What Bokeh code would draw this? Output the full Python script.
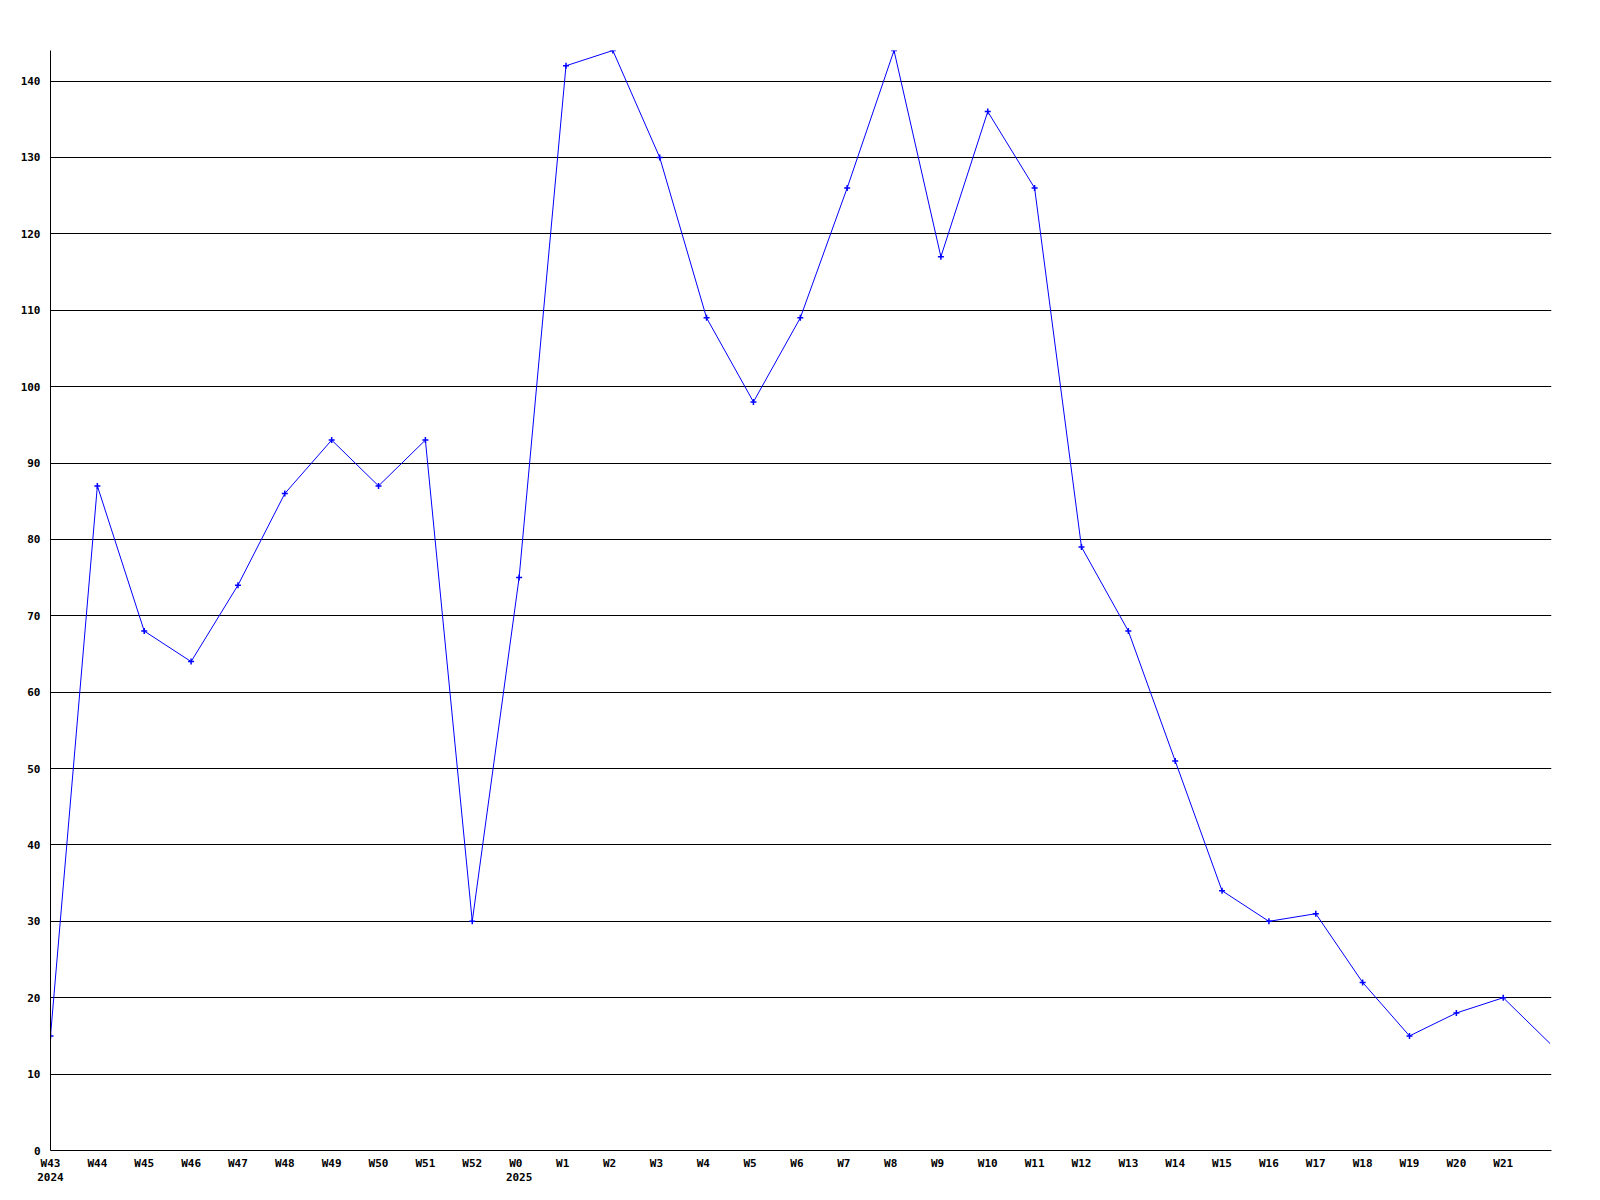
from bokeh.plotting import figure
from bokeh.models import Range1d, FixedTicker, LinearAxis
from bokeh.embed import file_html
from bokeh.resources import INLINE

weeks = ["W43", "W44", "W45", "W46", "W47", "W48", "W49", "W50", "W51", "W52",
         "W0", "W1", "W2", "W3", "W4", "W5", "W6", "W7", "W8", "W9", "W10",
         "W11", "W12", "W13", "W14", "W15", "W16", "W17", "W18", "W19", "W20", "W21", "W22"]
values = [15, 87, 68, 64, 74, 86, 93, 87, 93, 30,
          75, 142, 144, 130, 109, 98, 109, 126, 144, 117, 136,
          126, 79, 68, 51, 34, 30, 31, 22, 15, 18, 20, 14]
year_weeks = ["W43", "W0"]
year_texts = ["2024", "2025"]
y_ticks = list(range(0, 150, 10))

xs = list(range(len(weeks)))
n_shown = len(weeks) - 1  # last week runs off the right edge

FONT = "DejaVu Sans Mono"
NBSP = "\u00a0"

p = figure(frame_width=1501, frame_height=1100,
           x_range=Range1d(0, n_shown + 0.03), y_range=Range1d(0, 144),
           output_backend="svg", toolbar_location=None,
           x_axis_location=None, y_axis_location=None,
           min_border_left=50, min_border_top=50, min_border_right=41, min_border_bottom=50)
p.outline_line_color = None
p.background_fill_color = "white"
p.border_fill_color = "white"


def style_axis(ax, standoff):
    ax.major_tick_line_color = None
    ax.major_tick_out = 0
    ax.major_tick_in = 0
    ax.minor_tick_line_color = None
    ax.major_label_standoff = standoff
    ax.major_label_text_font = FONT
    ax.major_label_text_font_style = "bold"
    ax.major_label_text_font_size = "11px"
    ax.major_label_text_color = "black"


# y axis
yax = LinearAxis(ticker=FixedTicker(ticks=y_ticks))
yax.axis_line_color = "black"
yax.axis_line_width = 1
style_axis(yax, 10)
p.add_layout(yax, "left")

# x axis: week labels, padded so they start ~10px left of the tick
xax = LinearAxis(ticker=FixedTicker(ticks=xs[:n_shown]))
xax.major_label_overrides = {i: weeks[i].ljust(3, NBSP) for i in range(n_shown)}
xax.axis_line_color = "black"
xax.major_label_text_align = "center"
style_axis(xax, 6)
p.add_layout(xax, "below")

# second x axis: year labels under the first week of each year
yr_ticks = [weeks.index(w) for w in year_weeks]
yax2 = LinearAxis(ticker=FixedTicker(ticks=yr_ticks))
yax2.major_label_overrides = {t: s for t, s in zip(yr_ticks, year_texts)}
yax2.axis_line_color = None
yax2.major_label_text_align = "center"
style_axis(yax2, 0)
p.add_layout(yax2, "below")

# horizontal grid
p.ygrid.grid_line_color = "black"
p.ygrid.grid_line_width = 1
p.ygrid.ticker = FixedTicker(ticks=y_ticks[1:])
p.xgrid.grid_line_color = None

p.line(xs, values, line_color="#0000ff", line_width=1)
p.scatter(xs[:n_shown], values[:n_shown], marker="cross", size=6,
          line_color="#0000ff", line_width=1.5)

open("out.html", "w").write(file_html(p, INLINE))
